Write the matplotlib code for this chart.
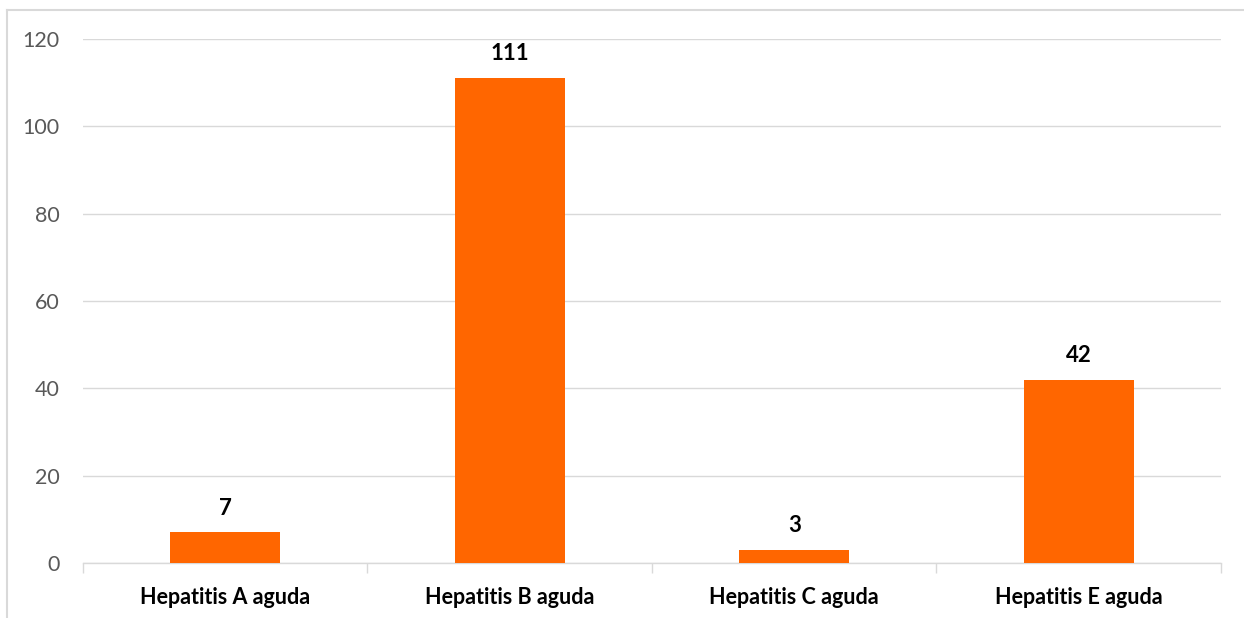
import matplotlib.pyplot as plt
import numpy as np
from matplotlib.lines import Line2D

categories = ["Hepatitis A aguda", "Hepatitis B aguda", "Hepatitis C aguda", "Hepatitis E aguda"]
values = [7, 111, 3, 42]
yticks = [0, 20, 40, 60, 80, 100, 120]

plt.rcParams['font.family'] = ['Lato', 'DejaVu Sans']

fig = plt.figure(figsize=(12.44, 6.18), dpi=100)
ax = fig.add_axes([83/1244, 1-563/618, (1221-83)/1244, (563-39)/618])

x = np.arange(len(categories))
ax.bar(x, values, width=0.386, color='#ff6600', zorder=3)

for xi, v in zip(x, values):
    ax.annotate(str(v), (xi, v), xytext=(0, 10), textcoords='offset points',
                ha='center', va='bottom', fontsize=16, fontweight='bold', color='black')

ax.set_xlim(-0.5, len(categories) - 0.5)
ax.set_ylim(0, 120)
ax.set_yticks(yticks)
ax.yaxis.grid(True, color='#d9d9d9', linewidth=1, zorder=0)
ax.tick_params(axis='y', length=0, pad=17, labelsize=15.5, labelcolor='#595959')

ax.set_xticks(x)
ax.set_xticklabels(categories, fontsize=15.5, fontweight='bold')
ax.set_xticks(np.arange(-0.5, len(categories), 1), minor=True)
ax.tick_params(axis='x', which='major', length=0, pad=17)
ax.tick_params(axis='x', which='minor', length=7, color='#d9d9d9', width=1)

for s in ['top', 'right', 'left']:
    ax.spines[s].set_visible(False)
ax.spines['bottom'].set_color('#d9d9d9')
ax.spines['bottom'].set_linewidth(1)

# outer border of the chart area
fig.add_artist(Line2D([7/1244, 7/1244], [0, 1-10/618], transform=fig.transFigure, color='#d9d9d9', lw=1.5))
fig.add_artist(Line2D([7/1244, 1], [1-10/618, 1-10/618], transform=fig.transFigure, color='#d9d9d9', lw=1.5))

fig.savefig('out.png', dpi=100)
